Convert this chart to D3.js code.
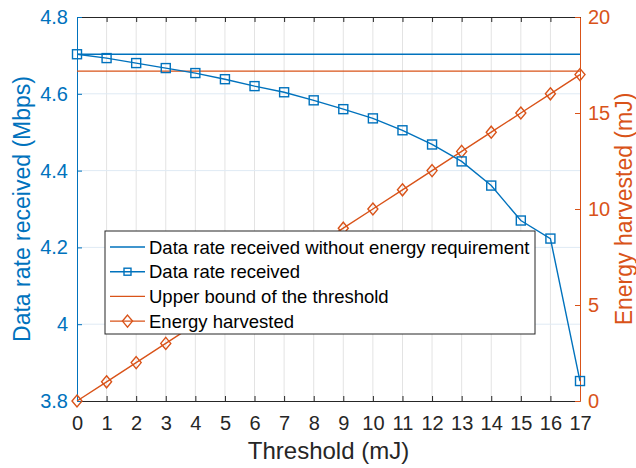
<!DOCTYPE html>
<html>
<head>
<meta charset="utf-8">
<script src="https://cdn.jsdelivr.net/npm/d3@7"></script>
<style>
  body { margin: 0; background: #fff; }
  text { font-family: "Liberation Sans", Arial, sans-serif; }
</style>
</head>
<body>
<div class="container"></div>
<script>
var thresholds = [0,1,2,3,4,5,6,7,8,9,10,11,12,13,14,15,16,17];
var dataRate = [4.703,4.693,4.680,4.667,4.654,4.638,4.620,4.604,4.583,4.560,4.536,4.505,4.468,4.424,4.361,4.270,4.223,3.852];
var dataRateNoEnergy = 4.703;
var energyHarvested = [0,1,2,3,4,5,6,7,8,9,10,11,12,13,14,15,16,17];
var thresholdUpperBound = 17.18;
var leftTicks = [3.8,4,4.2,4.4,4.6,4.8];
var rightTicks = [0,5,10,15,20];
var legendLabels = ['Data rate received without energy requirement','Data rate received','Upper bound of the threshold','Energy harvested'];

var BLUE = '#0072BD', ORANGE = '#D95319', DARK = '#262626';
var WIDTH = 636, HEIGHT = 468;
var L = 77, R = 580, T = 17, B = 401;

var svg = d3.select('.container').append('svg')
    .attr('width', WIDTH).attr('height', HEIGHT);

var x = d3.scaleLinear().domain([0,17]).range([L, R]);
var yL = d3.scaleLinear().domain([3.8,4.8]).range([B, T]);
var yR = d3.scaleLinear().domain([0,20]).range([B, T]);

// grid
var grid = svg.append('g');
grid.selectAll('.vg').data(thresholds.slice(1, -1)).enter().append('line')
    .attr('x1', function(d){return x(d)}).attr('x2', function(d){return x(d)})
    .attr('y1', T).attr('y2', B)
    .attr('stroke', '#e3e3e3').attr('stroke-width', 1);
grid.selectAll('.hg').data(leftTicks.slice(1, -1)).enter().append('line')
    .attr('x1', L).attr('x2', R)
    .attr('y1', function(d){return yL(d)}).attr('y2', function(d){return yL(d)})
    .attr('stroke', '#dfeaf4').attr('stroke-width', 1);

// axes
var xAxis = d3.axisBottom(x).tickValues(thresholds).tickSizeInner(-5).tickSizeOuter(0).tickPadding(15);
var gx = svg.append('g').attr('transform', 'translate(0,' + B + ')').call(xAxis);
gx.selectAll('text').attr('font-size', 20).attr('fill', DARK);
gx.selectAll('line, path').attr('stroke', DARK);

var xTop = d3.axisTop(x).tickValues(thresholds).tickSizeInner(-5).tickSizeOuter(0).tickFormat('');
var gxt = svg.append('g').attr('transform', 'translate(0,' + T + ')').call(xTop);
gxt.selectAll('line, path').attr('stroke', DARK);

var yAxisL = d3.axisLeft(yL).tickValues(leftTicks).tickSizeInner(-5).tickSizeOuter(0).tickPadding(9)
    .tickFormat(function(d){return d3.format('')(+d.toFixed(1))});
var gyl = svg.append('g').attr('transform', 'translate(' + L + ',0)').call(yAxisL);
gyl.selectAll('text').attr('font-size', 20).attr('fill', BLUE);
gyl.selectAll('line, path').attr('stroke', BLUE);

var yAxisR = d3.axisRight(yR).tickValues(rightTicks).tickSizeInner(-5).tickSizeOuter(0).tickPadding(8);
var gyr = svg.append('g').attr('transform', 'translate(' + R + ',0)').call(yAxisR);
gyr.selectAll('text').attr('font-size', 20).attr('fill', ORANGE);
gyr.selectAll('line, path').attr('stroke', ORANGE);

// axis titles
svg.append('text').attr('x', (L + R) / 2).attr('y', 459).attr('text-anchor', 'middle')
    .attr('font-size', 24).attr('fill', DARK).text('Threshold (mJ)');
svg.append('text').attr('transform', 'translate(30,' + ((T + B) / 2) + ') rotate(-90)')
    .attr('text-anchor', 'middle').attr('font-size', 23).attr('fill', BLUE)
    .text('Data rate received (Mbps)');
svg.append('text').attr('transform', 'translate(632,' + ((T + B) / 2) + ') rotate(-90)')
    .attr('text-anchor', 'middle').attr('font-size', 23).attr('fill', ORANGE)
    .text('Energy harvested (mJ)');

// lines
var plot = svg.append('g');
plot.append('line').attr('x1', L).attr('x2', R)
    .attr('y1', yL(dataRateNoEnergy)).attr('y2', yL(dataRateNoEnergy))
    .attr('stroke', BLUE).attr('stroke-width', 1.4);
plot.append('line').attr('x1', L).attr('x2', R)
    .attr('y1', yR(thresholdUpperBound)).attr('y2', yR(thresholdUpperBound))
    .attr('stroke', ORANGE).attr('stroke-width', 1.4);

var rateLine = d3.line().x(function(d, i){return x(thresholds[i])}).y(function(d){return yL(d)});
var energyLine = d3.line().x(function(d, i){return x(thresholds[i])}).y(function(d){return yR(d)});

plot.append('path').datum(energyHarvested).attr('d', energyLine)
    .attr('fill', 'none').attr('stroke', ORANGE).attr('stroke-width', 1.4);
plot.append('path').datum(dataRate).attr('d', rateLine)
    .attr('fill', 'none').attr('stroke', BLUE).attr('stroke-width', 1.4);

var diamond = 'M0,-6L5,0L0,6L-5,0Z';
plot.selectAll('.dia').data(energyHarvested).enter().append('path')
    .attr('d', diamond)
    .attr('transform', function(d, i){return 'translate(' + x(thresholds[i]) + ',' + yR(d) + ')'})
    .attr('fill', 'none').attr('stroke', ORANGE).attr('stroke-width', 1.4);
plot.selectAll('.sq').data(dataRate).enter().append('rect')
    .attr('x', function(d, i){return x(thresholds[i]) - 4.5})
    .attr('y', function(d){return yL(d) - 4.5})
    .attr('width', 9).attr('height', 9)
    .attr('fill', 'none').attr('stroke', BLUE).attr('stroke-width', 1.4);

// legend
var lg = svg.append('g').attr('transform', 'translate(105,231)');
lg.append('rect').attr('width', 430).attr('height', 103)
    .attr('fill', '#fff').attr('stroke', DARK).attr('stroke-width', 1);
var styles = [
  {c: BLUE, m: null},
  {c: BLUE, m: 'sq'},
  {c: ORANGE, m: null},
  {c: ORANGE, m: 'dia'}
];
legendLabels.forEach(function(lbl, i){
  var yy = 16 + i * 24.7;
  var s = styles[i];
  lg.append('line').attr('x1', 5).attr('x2', 40).attr('y1', yy).attr('y2', yy)
      .attr('stroke', s.c).attr('stroke-width', 1.4);
  if (s.m === 'sq') {
    lg.append('rect').attr('x', 22.5 - 3.5).attr('y', yy - 3.5).attr('width', 7).attr('height', 7)
        .attr('fill', 'none').attr('stroke', s.c).attr('stroke-width', 1.4);
  } else if (s.m === 'dia') {
    lg.append('path').attr('d', diamond).attr('transform', 'translate(22.5,' + yy + ')')
        .attr('fill', 'none').attr('stroke', s.c).attr('stroke-width', 1.4);
  }
  lg.append('text').attr('x', 44).attr('y', yy + 6.5).attr('font-size', 18.5)
      .attr('fill', '#000').text(lbl);
});
</script>
</body>
</html>
